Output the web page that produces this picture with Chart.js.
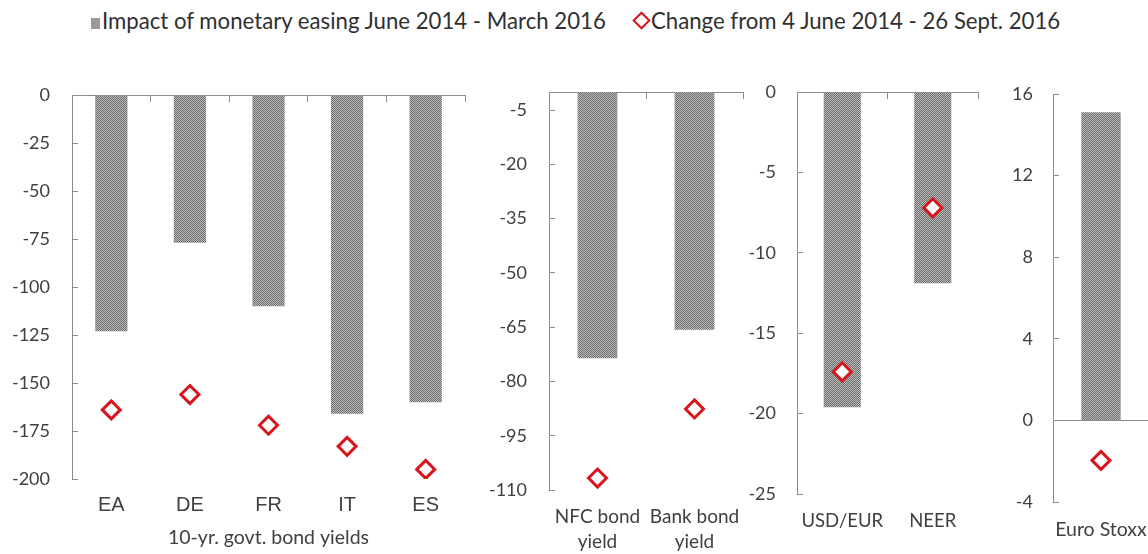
<!DOCTYPE html>
<html>
<head>
<meta charset="utf-8">
<script src="https://cdn.jsdelivr.net/npm/chart.js@4.4.1/dist/chart.umd.min.js"></script>
<style>
    html, body { margin: 0; padding: 0; background: #fff; overflow: hidden; }
    body { width: 1148px; height: 554px; position: relative; }
    .panel { position: absolute; top: 80px; height: 474px; }
    .legend { position: absolute; top: 7px; font-family: Lato, sans-serif; font-size: 22.2px; color: #303030; white-space: nowrap; }
    .sq { display: inline-block; width: 9px; height: 11px; background: #9a9a9a; margin-right: 2px; vertical-align: 0px; }
    .dm { display: inline-block; width: 9px; height: 9px; border: 2.5px solid #d9141c; transform: rotate(45deg); margin: 0 3px 0 3px; vertical-align: 2px; }
</style>
</head>
<body>
<div class="legend" style="left:91px"><span class="sq"></span>Impact of monetary easing June 2014 - March 2016</div>
<div class="legend" style="left:632px"><span class="dm"></span>Change from 4 June 2014 - 26 Sept. 2016</div>

<div class="panel" style="left:0px;width:480px"><canvas id="govt"></canvas></div>
<div class="panel" style="left:480px;width:275px"><canvas id="corp"></canvas></div>
<div class="panel" style="left:745px;width:245px"><canvas id="fx"></canvas></div>
<div class="panel" style="left:995px;width:170px"><canvas id="stock"></canvas></div>

<script>
// 10-yr govt bond yields (bp)
const govtLabels = ['EA', 'DE', 'FR', 'IT', 'ES'];
const govtEasing = [-123, -77, -110, -166, -160];
const govtChange = [-164, -156, -172, -183, -195];
const govtTicks = [0, -25, -50, -75, -100, -125, -150, -175, -200];

// corporate / bank bond yields (bp)
const corpLabels = [['NFC bond', 'yield'], ['Bank bond', 'yield']];
const corpEasing = [-73.6, -65.7];
const corpChange = [-106.7, -87.6];
const corpTicks = [-5, -20, -35, -50, -65, -80, -95, -110];

// exchange rates (%)
const fxLabels = ['USD/EUR', 'NEER'];
const fxEasing = [-19.6, -11.9];
const fxChange = [-17.4, -7.2];
const fxTicks = [0, -5, -10, -15, -20, -25];

// equities (%)
const stockLabels = ['Euro Stoxx'];
const stockEasing = [15.1];
const stockChange = [-1.96];
const stockTicks = [16, 12, 8, 4, 0, -4];

const axisGrey = '#8c8c8c';
const textGrey = '#404040';
const red = '#d9141c';

// dithered grey fill like the original
function makePattern() {
    const c = document.createElement('canvas');
    c.width = 2;
    c.height = 2;
    const g = c.getContext('2d');
    g.fillStyle = '#bcbcbc';
    g.fillRect(0, 0, 2, 2);
    g.fillStyle = '#6c6c6c';
    g.fillRect(0, 0, 1, 1);
    g.fillRect(1, 1, 1, 1);
    return g.createPattern(c, 'repeat');
}
const barFill = makePattern();

function buildChart(id, labels, easing, change, ticks, o) {
    const scales = {
        x: {
            type: 'category',
            border: { display: false },
            grid: { display: false, drawTicks: false },
            ticks: {
                padding: o.xPad,
                color: textGrey,
                font: o.xFont,
                maxRotation: 0,
                autoSkip: false
            },
            title: o.title ? {
                display: true,
                text: o.title,
                color: textGrey,
                font: { family: 'Lato', size: 19.5 },
                padding: { top: 0, bottom: 5 }
            } : { display: false },
            afterFit: s => {
                s.height = o.xHeight;
                s.paddingLeft = 0;
                s.paddingRight = 0;
            }
        },
        y: {
            min: o.min,
            max: o.max,
            border: { color: axisGrey, width: 1 },
            grid: {
                drawOnChartArea: !!o.zeroLine,
                color: ctx => (o.zeroLine && ctx.tick && ctx.tick.value === 0) ? axisGrey : 'rgba(0,0,0,0)',
                tickColor: axisGrey,
                tickLength: -6
            },
            ticks: {
                color: textGrey,
                font: { family: 'Lato', size: 18 },
                padding: o.yPad
            },
            afterBuildTicks: s => { s.ticks = ticks.map(v => ({ value: v })); },
            afterFit: s => {
                s.width = o.yWidth;
                s.paddingTop = 0;
                s.paddingBottom = 0;
            }
        }
    };
    if (o.topAxis) {
        scales.x2 = {
            type: 'category',
            position: 'top',
            offset: true,
            border: { color: axisGrey, width: 1 },
            grid: { offset: true, drawOnChartArea: false, color: axisGrey, tickLength: -7 },
            ticks: { display: false },
            afterFit: s => {
                s.height = 0;
                s.paddingLeft = 0;
                s.paddingRight = 0;
            }
        };
    }

    return new Chart(document.getElementById(id), {
        type: 'bar',
        data: {
            labels: labels,
            datasets: [{
                type: 'line',
                label: 'Change from 4 June 2014 - 26 Sept. 2016',
                data: change,
                showLine: false,
                pointStyle: 'rectRot',
                pointRadius: 9,
                pointBorderWidth: 3,
                pointBorderColor: red,
                pointBackgroundColor: '#ffffff',
                order: 0
            }, {
                label: 'Impact of monetary easing June 2014 - March 2016',
                data: easing,
                backgroundColor: barFill,
                borderWidth: 0,
                categoryPercentage: 1,
                barPercentage: 0.41,
                order: 1
            }]
        },
        options: {
            responsive: true,
            maintainAspectRatio: false,
            animation: false,
            layout: { padding: { top: o.padTop, right: o.padRight, left: 0, bottom: 0 } },
            plugins: {
                legend: { display: false },
                tooltip: { enabled: false }
            },
            scales: scales
        }
    });
}

buildChart('govt', govtLabels, govtEasing, govtChange, govtTicks, {
    min: -200, max: 0, yWidth: 72, yPad: 28, padTop: 15, padRight: 15,
    xHeight: 75, xPad: 14, topAxis: true,
    xFont: { family: 'Liberation Sans', size: 20 },
    title: '10-yr. govt. bond yields'
});

buildChart('corp', corpLabels, corpEasing, corpChange, corpTicks, {
    min: -110, max: 0, yWidth: 69, yPad: 28, padTop: 8, padRight: 6,
    xHeight: 64, xPad: 15, topAxis: true,
    xFont: { family: 'Lato', size: 19, lineHeight: 1.3 }
});

buildChart('fx', fxLabels, fxEasing, fxChange, fxTicks, {
    min: -25, max: 0, yWidth: 52, yPad: 27, padTop: 12, padRight: 5,
    xHeight: 60, xPad: 16, topAxis: true,
    xFont: { family: 'Lato', size: 18.5 }
});

buildChart('stock', stockLabels, stockEasing, stockChange, stockTicks, {
    min: -4, max: 16, yWidth: 58, yPad: 26, padTop: 14, padRight: 16,
    xHeight: 52, xPad: 16, topAxis: false, zeroLine: true,
    xFont: { family: 'Lato', size: 19.5 }
});
</script>
</body>
</html>
